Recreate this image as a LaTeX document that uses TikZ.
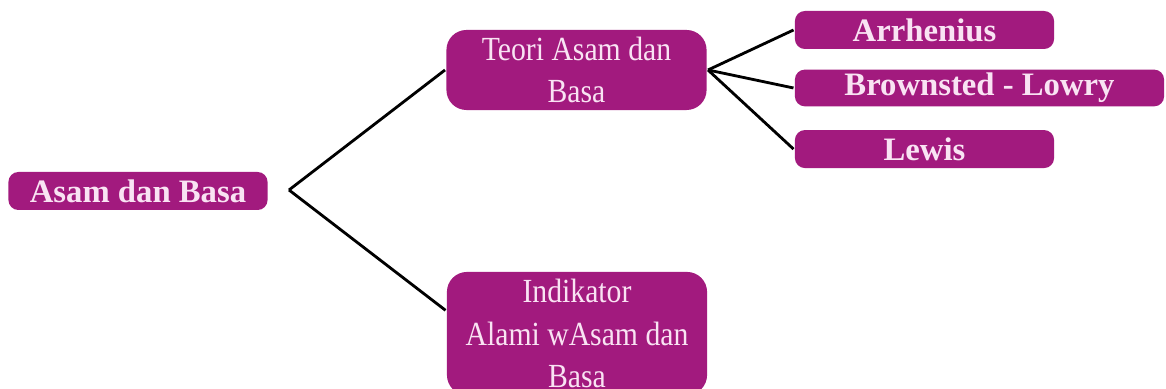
\documentclass[tikz,border=0pt]{standalone}
\usepackage{fontspec}
\setmainfont{Liberation Serif}
\newfontfamily\sempit{Liberation Serif}[FakeStretch=0.88]
\definecolor{ungu}{HTML}{A21A7E}
\definecolor{teks}{HTML}{F9E3F3}

\begin{document}
\begin{tikzpicture}
  [x=0.01cm, y=-0.01cm, line width=0.8pt,
   box/.style={fill=ungu, text=teks, inner sep=1pt, align=center},
   kecil/.style={box, rounded corners=0.1cm, minimum width=2.59cm, minimum height=0.38cm,
                 font=\fontsize{9.3}{11}\selectfont\bfseries},
   besar/.style={box, rounded corners=0.2cm, minimum width=2.6cm,
                 font=\sempit\fontsize{9.6}{12.2}\selectfont}]
  \useasboundingbox (0,0) rectangle (1166,389);
  \clip (0,0) rectangle (1166,389);

  \node [kecil, name=asam] at (138,191) {Asam dan Basa};
  \node [besar, name=teori, minimum height=0.8cm] at (576.5,70) {Teori Asam dan\\Basa};
  \node [besar, name=indikator, minimum height=1.23cm] at (577,333.5) {Indikator\\Alami wAsam dan\\Basa};
  \node [kecil, name=arrhenius] at (924.5,30) {Arrhenius};
  \node [kecil, name=bronsted, minimum width=3.69cm, minimum height=0.36cm] at (979.5,88) {Brownsted - Lowry};
  \node [kecil, name=lewis, below of=arrhenius, node distance=1.19cm] {Lewis};
  \coordinate (cabang) at (289,190);

  \path (cabang) edge (teori.west)
        (cabang) edge (indikator.170)
        (teori.east) edge (arrhenius.west)
        (teori.east) edge (bronsted.west)
        (teori.east) edge (lewis.west);
\end{tikzpicture}
\end{document}
